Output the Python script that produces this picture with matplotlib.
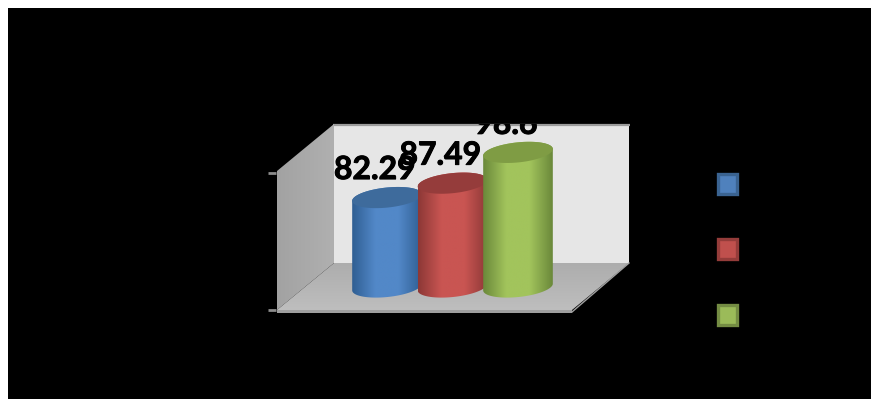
import numpy as np
import matplotlib
matplotlib.use("Agg")
import matplotlib.pyplot as plt
import matplotlib.patheffects as pe
from matplotlib.colors import LinearSegmentedColormap
from matplotlib.patches import Polygon, Rectangle

# Series values, one cylinder per series
values = [82.29, 87.49, 98.6]
value_labels = ["82.29", "87.49", "98.6"]
value_ticks = [50, 100]
value_floor = 50

edge_colors = ["#2f5e92", "#8c3836", "#6a883a"]
mid_colors = ["#5288c8", "#c95552", "#a2c45c"]
cap_colors = ["#3e6b9c", "#953c3b", "#7f9c44"]
key_fill = ["#4f81bd", "#c0504d", "#9bbb59"]
key_edge = ["#3a6391", "#943c3a", "#748c43"]

W, H = 871, 399
PX_PER_UNIT = 2.77   # vertical pixels per value unit
CAT_STEP = 65.5      # horizontal pixels between cylinders
BASE_Y = 287         # pixel row of the floor value at the cylinder base
FIRST_X = 387        # pixel column of the first cylinder
RX, RY = 35, 10      # cylinder cap radii in pixels
TILT = np.radians(6)

fig = plt.figure(figsize=(W / 100, H / 100), dpi=100, facecolor="white")

# Pixel-addressed layer for the frame, the 3D box and the key swatches
px = fig.add_axes([0, 0, 1, 1])
px.set_xlim(0, W)
px.set_ylim(H, 0)
px.axis("off")
px.add_patch(Rectangle((8, 8), W - 8, H - 8, fc="black", ec="none", zorder=0))


def shaded(ax, pts, colours, extent, vertical=False, zorder=2):
    """Fill a polygon with a linear colour ramp."""
    cmap = LinearSegmentedColormap.from_list("ramp", colours)
    ramp = np.linspace(0, 1, 256)
    ramp = ramp[:, None] if vertical else ramp[None, :]
    im = ax.imshow(ramp, cmap=cmap, extent=extent, aspect="auto",
                   origin="upper", interpolation="bilinear", zorder=zorder)
    clip = Polygon(pts, closed=True, transform=ax.transData, fc="none", ec="none")
    ax.add_patch(clip)
    im.set_clip_path(clip)
    return im


# Back wall
px.add_patch(Polygon([(334, 124), (629, 124), (629, 263), (334, 263)],
                     fc="#e6e6e6", ec="none", zorder=1))
px.plot([333, 630], [124.5, 124.5], color="#9c9c9c", lw=1.6, zorder=1.5,
        solid_capstyle="butt")
# Side wall
shaded(px, [(277, 171), (334, 124), (334, 263), (277, 310)],
       ["#a2a2a2", "#b0b0b0"], (277, 334, 310, 124))
# Floor and its front lip
shaded(px, [(334, 263), (629, 263), (572, 310), (277, 310)],
       ["#adadad", "#bebebe"], (277, 629, 310, 263), vertical=True)
px.add_patch(Polygon([(277, 309.5), (572, 309.5), (572, 313), (277, 313)],
                     fc="#9e9e9e", ec="none", zorder=3))
px.plot([572, 629], [312, 263], color="#a0a0a0", lw=1, zorder=3)
px.set_xlim(0, W)
px.set_ylim(H, 0)

# Value ticks on the front plane of the box
front = fig.add_axes([276 / W, (H - 310) / H, 296 / W, 137 / H])
front.patch.set_visible(False)
front.set_ylim(value_ticks[0], value_ticks[1])
front.set_yticks(value_ticks)
front.set_yticklabels([])
front.set_xticks([])
for spine in front.spines.values():
    spine.set_visible(False)
front.tick_params(axis="y", length=6, width=2, color="#8c8c8c")

# Value scale for the cylinders, laid over the whole figure
bars = fig.add_axes([0, 0, 1, 1])
bars.patch.set_visible(False)
bars.axis("off")
x_lim = (-FIRST_X / CAT_STEP, (W - FIRST_X) / CAT_STEP)
y_lim = (value_floor - (H - BASE_Y) / PX_PER_UNIT,
         value_floor + BASE_Y / PX_PER_UNIT)


def cap_points(x, value, t):
    """Points on a tilted cap ellipse, in data coordinates."""
    dx = RX * np.cos(t) * np.cos(TILT) - RY * np.sin(t) * np.sin(TILT)
    dy = RX * np.cos(t) * np.sin(TILT) + RY * np.sin(t) * np.cos(TILT)
    return np.column_stack([x + dx / CAT_STEP, value + dy / PX_PER_UNIT])


for i, value in enumerate(values):
    z = 4 + i
    lower = cap_points(i, value_floor, np.linspace(np.pi, 2 * np.pi, 80))
    upper = cap_points(i, value, np.linspace(0, np.pi, 80))
    body = np.vstack([lower, upper])
    half = RX / CAT_STEP
    shaded(bars, body, [edge_colors[i], mid_colors[i], mid_colors[i], edge_colors[i]],
           (i - half, i + half, value_floor - 10, value + 10), zorder=z)
    cap = cap_points(i, value, np.linspace(0, 2 * np.pi, 160))
    bars.add_patch(Polygon(cap, closed=True, fc=cap_colors[i], ec="none", zorder=z + 0.5))

bars.set_xlim(*x_lim)
bars.set_ylim(*y_lim)

# Value labels; the plot area trims anything rising past its top edge
label_clip = Rectangle((0, 124), W, H - 124, transform=px.transData, fc="none", ec="none")
for i, value in enumerate(values):
    txt = bars.annotate(value_labels[i], xy=(i, value),
                        xytext=(-12 * 0.72, 18.5 * 0.72), textcoords="offset points",
                        ha="center", va="baseline", fontsize=23, fontweight="bold",
                        family="Lato", color="black", zorder=20, annotation_clip=False,
                        path_effects=[pe.withStroke(linewidth=0.7, foreground="black")])
    txt.set_clip_on(True)
    txt.set_clip_path(label_clip)

# Key swatches
for i, top in enumerate([174, 239, 305]):
    px.add_patch(Rectangle((717.5, top), 19.5, 20, fc=key_fill[i], ec=key_edge[i],
                           lw=2.4, zorder=3))

fig.savefig("out.png", dpi=100, facecolor="white")
